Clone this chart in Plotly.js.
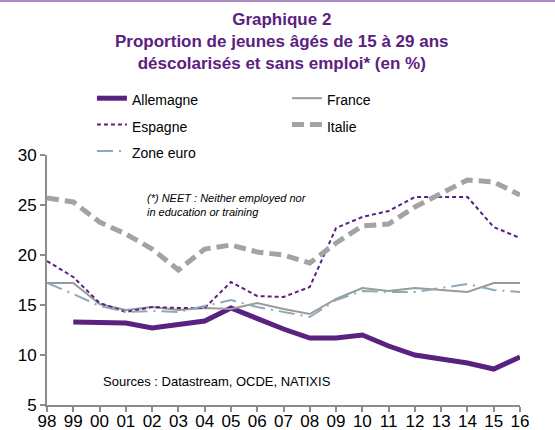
<!DOCTYPE html>
<html><head><meta charset="utf-8">
<script src="https://cdn.plot.ly/plotly-3.0.1.min.js"></script>
<style>html,body{margin:0;padding:0;background:#fff}#c{width:555px;height:430px}</style>
</head><body><div id="c"></div>
<script>
const years = ["98","99","00","01","02","03","04","05","06","07","08","09","10","11","12","13","14","15","16"];
const allemagne = [null,13.3,13.3,13.2,12.7,13.0,13.4,14.7,13.6,12.6,11.7,11.7,12.0,10.9,10.0,9.6,9.2,8.6,9.8];
const france    = [17.2,17.2,15.1,14.5,14.8,14.5,14.7,14.6,15.2,14.6,14.1,15.6,16.7,16.4,16.7,16.5,16.3,17.2,17.2];
const espagne   = [19.4,17.8,15.2,14.3,14.8,14.7,14.7,17.3,15.9,15.8,16.8,22.7,23.8,24.4,25.8,25.8,25.8,22.8,21.7];
const italie    = [25.7,25.3,23.3,22.1,20.6,18.5,20.6,21.0,20.3,20.0,19.2,21.2,22.9,23.1,24.8,26.1,27.5,27.3,26.0];
const zoneEuro  = [17.2,16.1,14.9,14.3,14.4,14.3,14.9,15.5,14.8,14.3,13.8,15.5,16.4,16.3,16.3,16.7,17.1,16.5,16.3];
const yTicks = [5,10,15,20,25,30];

const purple = "#5B2180";
const xIdx = years.map((_, i) => i);
const lbl = s => '<span style="font-size:14px">' + s + '</span>';
const traces = [
  {name:lbl("Allemagne"), y:allemagne, line:{color:purple, width:5}},
  {name:lbl("France"), y:france, line:{color:"#9a9a9a", width:2}},
  {name:lbl("Espagne"), y:espagne, line:{color:purple, width:2, dash:"4px,3px"}},
  {name:lbl("Italie"), y:italie, line:{color:"#a3a3a3", width:5, dash:"12px,6px"}},
  {name:lbl("Zone euro"), y:zoneEuro, line:{color:"#8eaab8", width:2, dash:"16px,6px,2px,6px"}}
].map(t => Object.assign({x:xIdx, type:"scatter", mode:"lines", hoverinfo:"skip"}, t));

const ff = "Liberation Sans, Arial, sans-serif";
const axisCommon = {showgrid:false, zeroline:false, showline:true, linecolor:"#8c8c8c", linewidth:2,
  ticks:"outside", tickcolor:"#8c8c8c", ticklen:5, tickwidth:2, tickfont:{size:17, family:ff, color:"#000"}};

const layout = {
  width:555, height:430,
  margin:{l:47, r:35, t:155, b:25},
  paper_bgcolor:"#fff", plot_bgcolor:"#fff",
  font:{family:ff, color:"#000"},
  showlegend:true,
  legend:{orientation:"h", x:0.095, xanchor:"left", y:1.3, yanchor:"top", entrywidth:150, entrywidthmode:"pixels",
    font:{size:18, family:ff, color:"#000"}, bgcolor:"rgba(0,0,0,0)", traceorder:"normal"},
  xaxis:Object.assign({}, axisCommon, {range:[0,18], tickvals:xIdx, ticktext:years, ticklabelstandoff:-5}),
  yaxis:Object.assign({}, axisCommon, {range:[5,30], tickvals:yTicks, ticktext:yTicks.map(String)}),
  yaxis2:Object.assign({}, axisCommon, {range:[5,30], tickvals:yTicks, ticktext:yTicks.map(String), overlaying:"y", side:"right", anchor:"x"}),
  shapes:[{type:"line", xref:"paper", yref:"paper", x0:-0.2, x1:1.2, y0:1.616, y1:1.616, line:{color:"#a98bc6", width:2}}],
  annotations:[
    {text:"<b>Graphique 2<br>Proportion de jeunes âgés de 15 à 29 ans<br>déscolarisés et sans emploi* (en %)</b>",
      xref:"paper", yref:"paper", x:(282-47)/473, y:1+(155-8)/250, xanchor:"center", yanchor:"top", align:"center",
      showarrow:false, font:{size:17, color:purple, family:ff}},
    {text:"<i>(*) NEET : Neither employed nor<br>in education or training</i>", xref:"paper", yref:"paper",
      x:(145-47)/473, y:1-(190-155)/250, xanchor:"left", yanchor:"top", align:"left", showarrow:false,
      font:{size:11, family:ff, color:"#000"}},
    {text:"Sources : Datastream, OCDE, NATIXIS", xref:"paper", yref:"paper",
      x:(101-47)/473, y:(405-381)/250, xanchor:"left", yanchor:"middle", align:"left", showarrow:false,
      font:{size:13, family:ff, color:"#000"}}
  ]
};
Plotly.newPlot("c", traces, layout, {displayModeBar:false, staticPlot:true});
</script></body></html>
